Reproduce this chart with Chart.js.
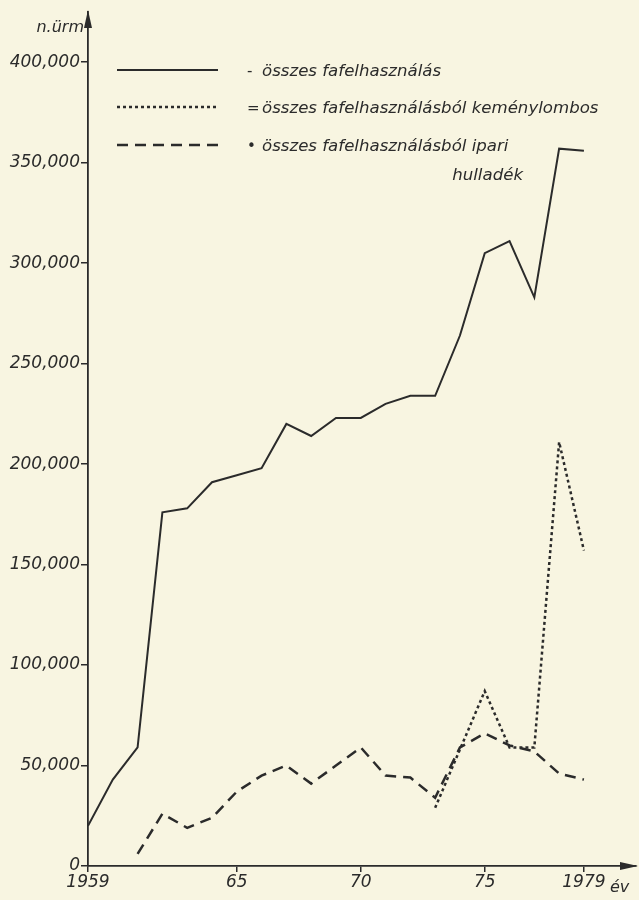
<!DOCTYPE html>
<html>
<head>
<meta charset="utf-8">
<script src="https://cdn.jsdelivr.net/npm/chart.js@4.4.1/dist/chart.umd.min.js"></script>
<style>
  html, body { margin: 0; background: #f8f5e1; }
  canvas { display: block; }
</style>
</head>
<body>
<canvas id="woodChart" width="639" height="900"></canvas>
<script>
// --- data (n.ürm = cubic metres) ---
const years = [1959, 1960, 1961, 1962, 1963, 1964, 1965, 1966, 1967, 1968, 1969,
               1970, 1971, 1972, 1973, 1974, 1975, 1976, 1977, 1978, 1979];

const totalUse = [20000, 43000, 59000, 176000, 178000, 191000, 194500, 198000, 220000, 214000, 223000,
                  223000, 230000, 234000, 234000, 264000, 305000, 311000, 283000, 357000, 356000];

const hardwood = [null, null, null, null, null, null, null, null, null, null, null,
                  null, null, null, 29000, 58000, 87000, 59000, 59000, 211000, 157000];

const industrialWaste = [null, null, 6000, 26000, 19000, 24000, 37000, 45000, 50000, 41000, 50000,
                         59000, 45000, 44000, 34000, 59000, 66000, 60000, 57000, 46000, 43000];

const xTickValues = [1959, 1965, 1970, 1975, 1979];
const xTickLabels = ['1959', '65', '70', '75', '1979'];
const yTickValues = [0, 50000, 100000, 150000, 200000, 250000, 300000, 350000, 400000];

const seriesLabels = [
    ['összes fafelhasználás'],
    ['összes fafelhasználásból keménylombos'],
    ['összes fafelhasználásból ipari', 'hulladék']
];
const legendMarks = ['-', '=', '•'];

const ink = '#2b2b2b';
const tickFont = { family: 'DejaVu Sans', size: 17, style: 'oblique' };

function toPoints(values) {
    return years.map((yr, i) => ({ x: yr, y: values[i] }));
}

// axis arrows, axis names and the hand-drawn style legend
const decorations = {
    id: 'decorations',
    afterDraw(chart) {
        const { ctx, chartArea: a } = chart;
        ctx.save();
        ctx.fillStyle = ink;

        // arrow heads
        ctx.beginPath();
        ctx.moveTo(a.left, a.top - 2);
        ctx.lineTo(a.left - 4, a.top + 16);
        ctx.lineTo(a.left + 4, a.top + 16);
        ctx.closePath();
        ctx.fill();
        ctx.beginPath();
        ctx.moveTo(a.right + 2, a.bottom);
        ctx.lineTo(a.right - 16, a.bottom - 4);
        ctx.lineTo(a.right - 16, a.bottom + 4);
        ctx.closePath();
        ctx.fill();

        ctx.font = 'oblique 16px "DejaVu Sans"';
        ctx.textBaseline = 'middle';
        ctx.textAlign = 'right';
        ctx.fillText('n.ürm', a.left - 4, 28);
        ctx.textAlign = 'left';
        ctx.fillText('év', a.right - 26, 888);

        // legend
        const rowY = [70, 107, 145];
        chart.data.datasets.forEach((ds, i) => {
            const y = rowY[i];
            ctx.strokeStyle = ds.borderColor;
            ctx.lineWidth = ds.borderWidth;
            ctx.setLineDash(ds.borderDash || []);
            ctx.beginPath();
            ctx.moveTo(117, y);
            ctx.lineTo(218, y);
            ctx.stroke();
            ctx.setLineDash([]);

            ctx.textAlign = 'left';
            ctx.font = '15px "DejaVu Sans"';
            ctx.fillText(legendMarks[i], 247, y + 2);
            ctx.font = 'oblique 16.6px "DejaVu Sans"';
            ctx.fillText(seriesLabels[i][0], 262, y + 2);
            if (seriesLabels[i][1]) {
                ctx.textAlign = 'right';
                ctx.fillText(seriesLabels[i][1], 523, y + 31);
            }
        });
        ctx.restore();
    }
};

new Chart(document.getElementById('woodChart'), {
    type: 'line',
    data: {
        datasets: [
            {
                label: seriesLabels[0].join(' '),
                data: toPoints(totalUse),
                borderColor: ink,
                borderWidth: 2,
                pointRadius: 0,
                tension: 0
            },
            {
                label: seriesLabels[1].join(' '),
                data: toPoints(hardwood),
                borderColor: ink,
                borderWidth: 2.5,
                borderDash: [3, 3],
                pointRadius: 0,
                tension: 0
            },
            {
                label: seriesLabels[2].join(' '),
                data: toPoints(industrialWaste),
                borderColor: ink,
                borderWidth: 2.5,
                borderDash: [11, 7],
                pointRadius: 0,
                tension: 0
            }
        ]
    },
    options: {
        responsive: false,
        animation: false,
        layout: { padding: { top: 12, right: 3, left: 0, bottom: 0 } },
        plugins: {
            legend: { display: false },
            tooltip: { enabled: false }
        },
        scales: {
            x: {
                type: 'linear',
                min: 1959,
                max: 1981.1,
                afterFit: scale => { scale.height = 34; },
                afterBuildTicks: scale => {
                    scale.ticks = xTickValues.map(v => ({ value: v }));
                },
                grid: { drawOnChartArea: false, tickLength: 6, color: ink, lineWidth: 1.5 },
                border: { color: ink, width: 1.8 },
                ticks: {
                    color: ink,
                    font: tickFont,
                    padding: 0,
                    maxRotation: 0,
                    autoSkip: false,
                    callback: value => xTickLabels[xTickValues.indexOf(value)]
                }
            },
            y: {
                min: 0,
                max: 425000,
                afterFit: scale => { scale.width = 88; },
                afterBuildTicks: scale => {
                    scale.ticks = yTickValues.map(v => ({ value: v }));
                },
                grid: { drawOnChartArea: false, tickLength: 7, color: ink, lineWidth: 1.5 },
                border: { color: ink, width: 1.8 },
                ticks: {
                    color: ink,
                    font: tickFont,
                    padding: 1,
                    autoSkip: false,
                    callback: value => value.toLocaleString('en-US')
                }
            }
        }
    },
    plugins: [decorations]
});
</script>
</body>
</html>
